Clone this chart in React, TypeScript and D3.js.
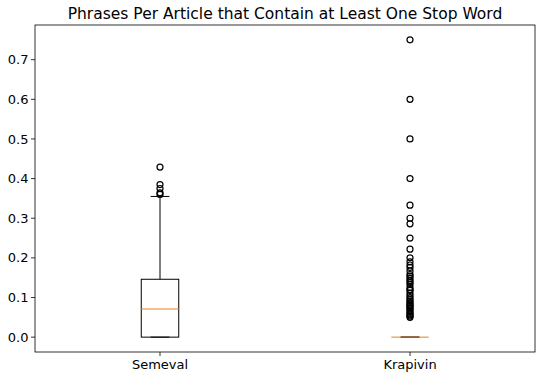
import * as d3 from 'd3'

const categories = ['Semeval', 'Krapivin']
// box summaries: [whiskerLow, q1, median, q3, whiskerHigh]
const semevalStats = [0, 0, 0.071, 0.146, 0.355]
const krapivinStats = [0, 0, 0, 0, 0]
const semevalFliers = [0.429, 0.385, 0.375, 0.364, 0.36]
const krapivinFliers = [
  0.75, 0.6, 0.5, 0.4, 0.333, 0.3, 0.286, 0.25, 0.222, 0.2, 0.19, 0.182, 0.176, 0.167,
  0.158, 0.154, 0.148, 0.143, 0.138, 0.133, 0.125, 0.12, 0.118, 0.111, 0.105, 0.1,
  0.095, 0.091, 0.087, 0.083, 0.08, 0.077, 0.074, 0.071, 0.067, 0.0625, 0.059, 0.056,
  0.053, 0.05,
]
const yTicks = [0, 0.1, 0.2, 0.3, 0.4, 0.5, 0.6, 0.7]

const W = 547
const H = 378
const margin = { left: 35, right: 12, top: 25, bottom: 26 }

const App = () => {
  const x = d3.scaleLinear().domain([0.5, 2.5]).range([margin.left, W - margin.right])
  const y = d3.scaleLinear().domain([-0.0375, 0.7875]).range([H - margin.bottom, margin.top])
  // matplotlib default box width is 0.15 in data units
  const boxW = x(1.15) - x(1)

  const boxes = [
    { name: categories[0], s: semevalStats, fliers: semevalFliers },
    { name: categories[1], s: krapivinStats, fliers: krapivinFliers },
  ]

  const font = 'DejaVu Sans, sans-serif'

  return (
    <svg width={W} height={H} style={{ position: 'absolute', left: 0, top: 0, background: '#fff' }}>
      <text x={(margin.left + W - margin.right) / 2} y={19} textAnchor="middle"
        fontFamily={font} fontSize={15.5} fill="#000">
        Phrases Per Article that Contain at Least One Stop Word
      </text>
      {yTicks.map((t) => (
        <g key={t} transform={`translate(${margin.left}, ${y(t)})`}>
          <line x1={-4} x2={0} stroke="#000" strokeWidth={0.8} />
          <text x={-6.5} dy="0.35em" textAnchor="end" fontFamily={font} fontSize={13} fill="#000">
            {d3.format('.1f')(t)}
          </text>
        </g>
      ))}
      {boxes.map((b, i) => {
        const cx = x(i + 1)
        const [wl, q1, med, q3, wh] = b.s
        return (
          <g key={b.name}>
            <line x1={cx} x2={cx} y1={H - margin.bottom} y2={H - margin.bottom + 4} stroke="#000" strokeWidth={0.8} />
            <text x={cx} y={H - margin.bottom + 17} textAnchor="middle" fontFamily={font} fontSize={13} fill="#000">
              {b.name}
            </text>
            <line x1={cx} x2={cx} y1={y(q3)} y2={y(wh)} stroke="#000" />
            <line x1={cx} x2={cx} y1={y(q1)} y2={y(wl)} stroke="#000" />
            <line x1={cx - boxW / 4} x2={cx + boxW / 4} y1={y(wh)} y2={y(wh)} stroke="#000" />
            <line x1={cx - boxW / 4} x2={cx + boxW / 4} y1={y(wl)} y2={y(wl)} stroke="#000" />
            <rect x={cx - boxW / 2} y={y(q3)} width={boxW} height={Math.max(0, y(q1) - y(q3))}
              fill="none" stroke="#000" />
            <line x1={cx - boxW / 2} x2={cx + boxW / 2} y1={y(med)} y2={y(med)} stroke="#e8801e" />
            {b.fliers.map((f, j) => (
              <circle key={j} cx={cx} cy={y(f)} r={3} fill="none" stroke="#000" strokeWidth={1.2} />
            ))}
          </g>
        )
      })}
      <rect x={margin.left} y={margin.top} width={W - margin.left - margin.right}
        height={H - margin.top - margin.bottom} fill="none" stroke="#000" strokeWidth={0.8} />
    </svg>
  )
}

export default App
